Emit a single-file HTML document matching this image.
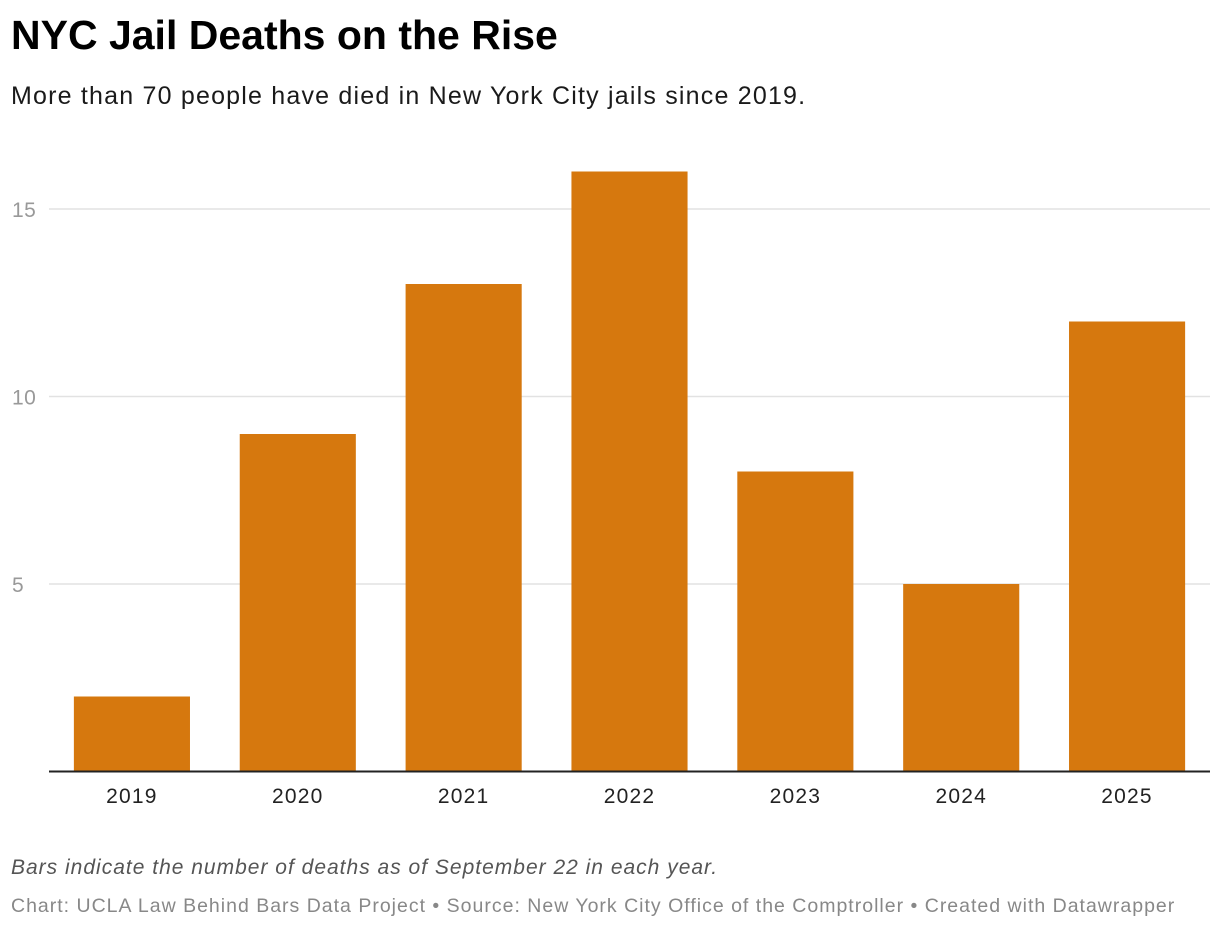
<!DOCTYPE html>
<html><head><meta charset="utf-8">
<style>
body{margin:0;width:1220px;height:930px;background:#fff;font-family:"Liberation Sans",Arial,sans-serif;overflow:hidden;position:relative}
.t{position:absolute;left:11px;white-space:nowrap}
</style></head><body>
<div class="t" style="top:12px;font-size:41px;font-weight:bold;color:#000;letter-spacing:0px">NYC Jail Deaths on the Rise</div>
<div class="t" style="top:82px;font-size:25px;color:#1a1a1a;letter-spacing:1.2px">More than 70 people have died in New York City jails since 2019.</div>
<svg id="chart" width="1220" height="930" style="position:absolute;left:0;top:0"></svg>
<div class="t" style="top:856px;font-size:21px;font-style:italic;color:#555;letter-spacing:1px">Bars indicate the number of deaths as of September 22 in each year.</div>
<div class="t" style="top:895px;font-size:19.5px;color:#888;letter-spacing:1px">Chart: UCLA Law Behind Bars Data Project • Source: New York City Office of the Comptroller • Created with Datawrapper</div>
<script>
const categories=["2019","2020","2021","2022","2023","2024","2025"];
const values=[2,9,13,16,8,5,12];
const yTicks=[5,10,15];
const NS="http://www.w3.org/2000/svg";
const svg=document.getElementById('chart');
const x0=49,x1=1210,y0=771.5,pxPerUnit=37.5;
const step=(x1-x0)/categories.length,bw=step*0.7;
const y=v=>y0-v*pxPerUnit;
function mk(t,a){const e=document.createElementNS(NS,t);for(const k in a)e.setAttribute(k,a[k]);svg.appendChild(e);return e;}
yTicks.forEach(v=>{
 const l=mk('line',{x1:x0,x2:x1,y1:y(v),y2:y(v),stroke:'#e2e2e2','stroke-width':1.5});
 
 
 const t=mk('text',{x:12,y:y(v)+8,'font-size':21,fill:'#999','font-family':'Liberation Sans, Arial, sans-serif','letter-spacing':'0.5'});
 t.textContent=v;
 
 
});
categories.forEach((c,i)=>{
 const cx=x0+step*(i+0.5);
 const r=mk('rect',{x:cx-bw/2,y:y(values[i]),width:bw,height:values[i]*pxPerUnit,fill:'#d6780e'});
 
 
 const t=mk('text',{x:cx,y:803,'font-size':21,fill:'#222','text-anchor':'middle','font-family':'Liberation Sans, Arial, sans-serif','letter-spacing':'1.2'});
 t.textContent=c;
 
 
});
const ax=mk('line',{x1:x0,x2:x1,y1:y0,y2:y0,stroke:'#222','stroke-width':2});


</script>
</body></html>
